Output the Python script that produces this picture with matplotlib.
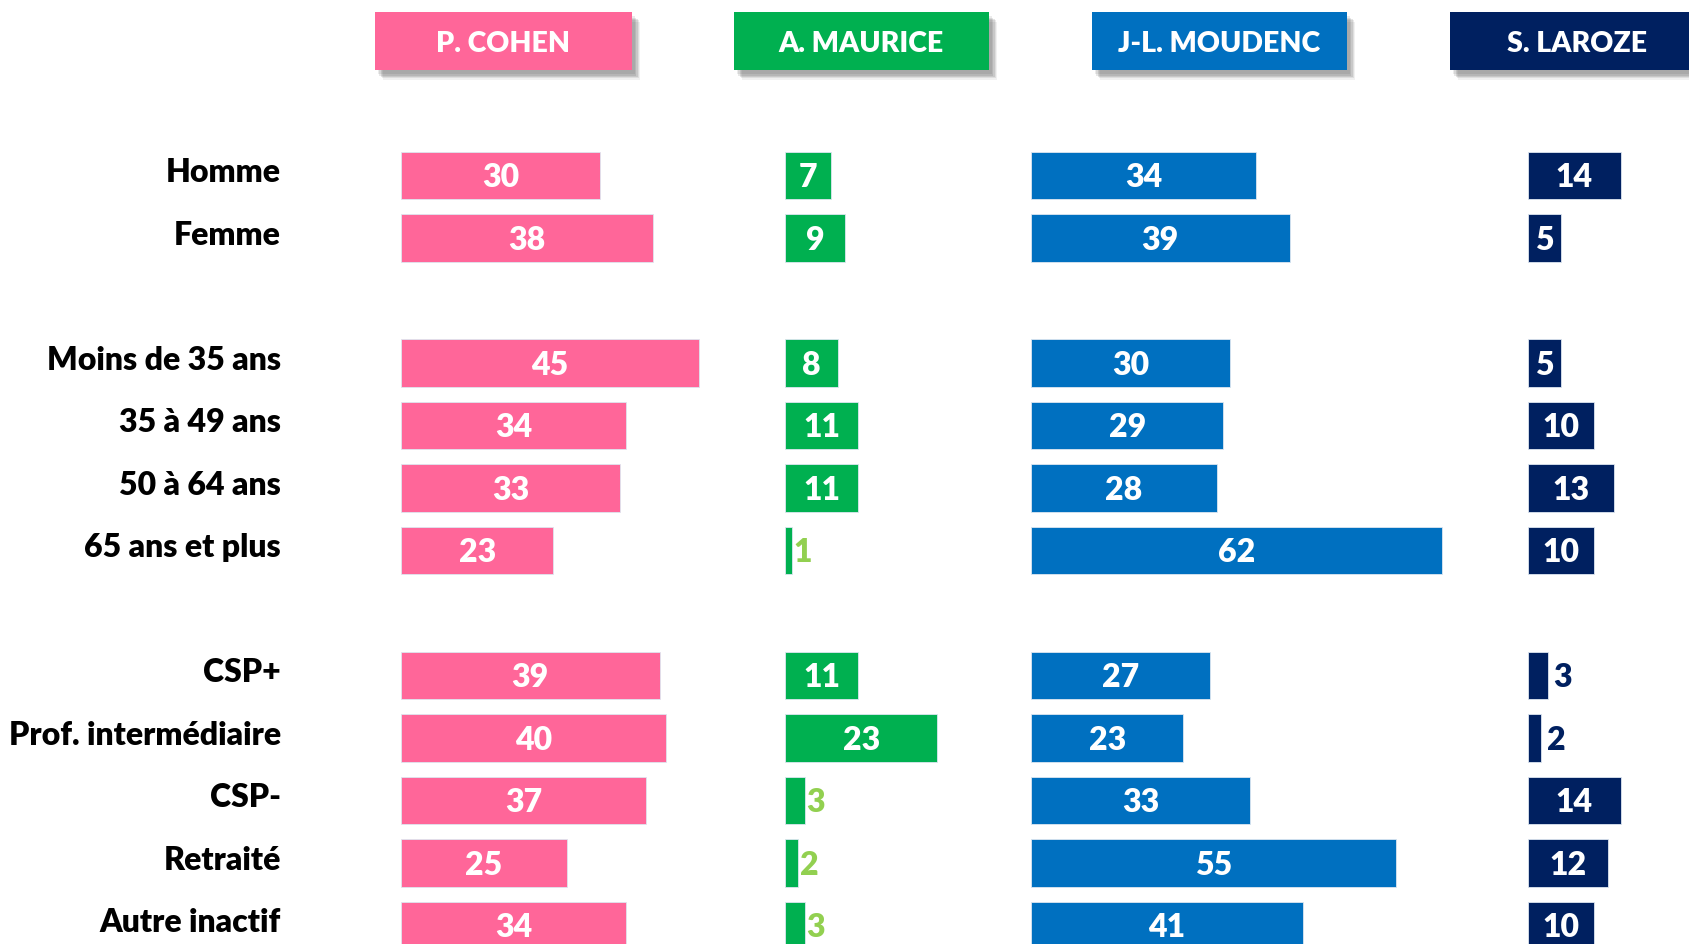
import matplotlib
matplotlib.use("Agg")
import matplotlib.pyplot as plt
import matplotlib.patheffects as pe
import matplotlib.transforms as mtransforms
from matplotlib.patches import Rectangle

categories = ["Homme", "Femme", "Moins de 35 ans", "35 à 49 ans", "50 à 64 ans",
              "65 ans et plus", "CSP+", "Prof. intermédiaire", "CSP-", "Retraité",
              "Autre inactif"]
group_sizes = [2, 4, 5]
candidates = ["P. COHEN", "A. MAURICE", "J-L. MOUDENC", "S. LAROZE"]
cohen = [30, 38, 45, 34, 33, 23, 39, 40, 37, 25, 34]
maurice = [7, 9, 8, 11, 11, 1, 11, 23, 3, 2, 3]
moudenc = [34, 39, 30, 29, 28, 62, 27, 23, 33, 55, 41]
laroze = [14, 5, 5, 10, 13, 10, 3, 2, 14, 12, 10]
values = [cohen, maurice, moudenc, laroze]

colors = ["#FF6699", "#00B050", "#0070C0", "#002060"]
outside_colors = ["#FF6699", "#92D050", "#0070C0", "#002060"]

FONT = "Lato"
W, H = 1690, 944
fig = plt.figure(figsize=(W / 100, H / 100), dpi=100)

# row positions with a blank row between groups
ypos = []
r = 0
for g in group_sizes:
    for _ in range(g):
        ypos.append(r)
        r += 1
    r += 1

px_per_unit = 6.63
row_px = 62.5
row0_px = 175.7
y_top = -row0_px / row_px
y_bot = (H - row0_px) / row_px

bar_left_px = [401, 785, 1031, 1528]
header_px = [(375, 632), (734, 989), (1092, 1347), (1450, 1705)]

axes = []
for i, (vals, col) in enumerate(zip(values, colors)):
    left = bar_left_px[i]
    width_px = (W - left) if i == 3 else 460
    ax = fig.add_axes([left / W, 0, width_px / W, 1])
    ax.set_xlim(0, width_px / px_per_unit)
    ax.set_ylim(y_bot, y_top)
    ax.axis("off")
    ax.barh(ypos, vals, height=0.76, color=col, edgecolor="#DDE6F0", linewidth=0.6)
    for y, v in zip(ypos, vals):
        if v <= 3:
            ax.annotate(str(v), (v, y), xytext=(1.0 if i == 1 else 4, -1.5),
                        textcoords="offset points", ha="left", va="center",
                        color=outside_colors[i], fontsize=23, fontweight="heavy",
                        family=FONT)
        else:
            ax.annotate(str(v), (v / 2, y), xytext=(0, -1.5),
                        textcoords="offset points", ha="center", va="center",
                        color="white", fontsize=23, fontweight="heavy", family=FONT)
    axes.append(ax)

# category labels
trans = mtransforms.blended_transform_factory(fig.transFigure, axes[0].transData)
for y, c in zip(ypos, categories):
    axes[0].text(281 / W, y - 0.05, c, transform=trans, ha="right", va="center",
                 fontsize=23, fontweight="heavy", family=FONT, color="black",
                 clip_on=False)

# header boxes with soft shadow
shadow = []
for k, (dx, dy, a) in enumerate([(2, -3, 0.10), (3, -4, 0.12), (4, -5, 0.14),
                                  (5, -6, 0.10), (6, -7, 0.07)]):
    shadow.append(pe.SimplePatchShadow(offset=(dx, dy), shadow_rgbFace="#404040",
                                       alpha=a))
for (x0, x1), name, col in zip(header_px, candidates, colors):
    rect = Rectangle((x0 / W, 1 - 70 / H), (x1 - x0) / W, 58 / H,
                     transform=fig.transFigure, facecolor=col, edgecolor="none",
                     path_effects=shadow + [pe.Normal()])
    fig.patches.append(rect)
    fig.text((x0 + x1) / 2 / W, 1 - 44 / H, name, ha="center", va="center",
             color="white", fontsize=20.5, fontweight="heavy", family=FONT)

fig.savefig("out.png", dpi=100, facecolor="white")
